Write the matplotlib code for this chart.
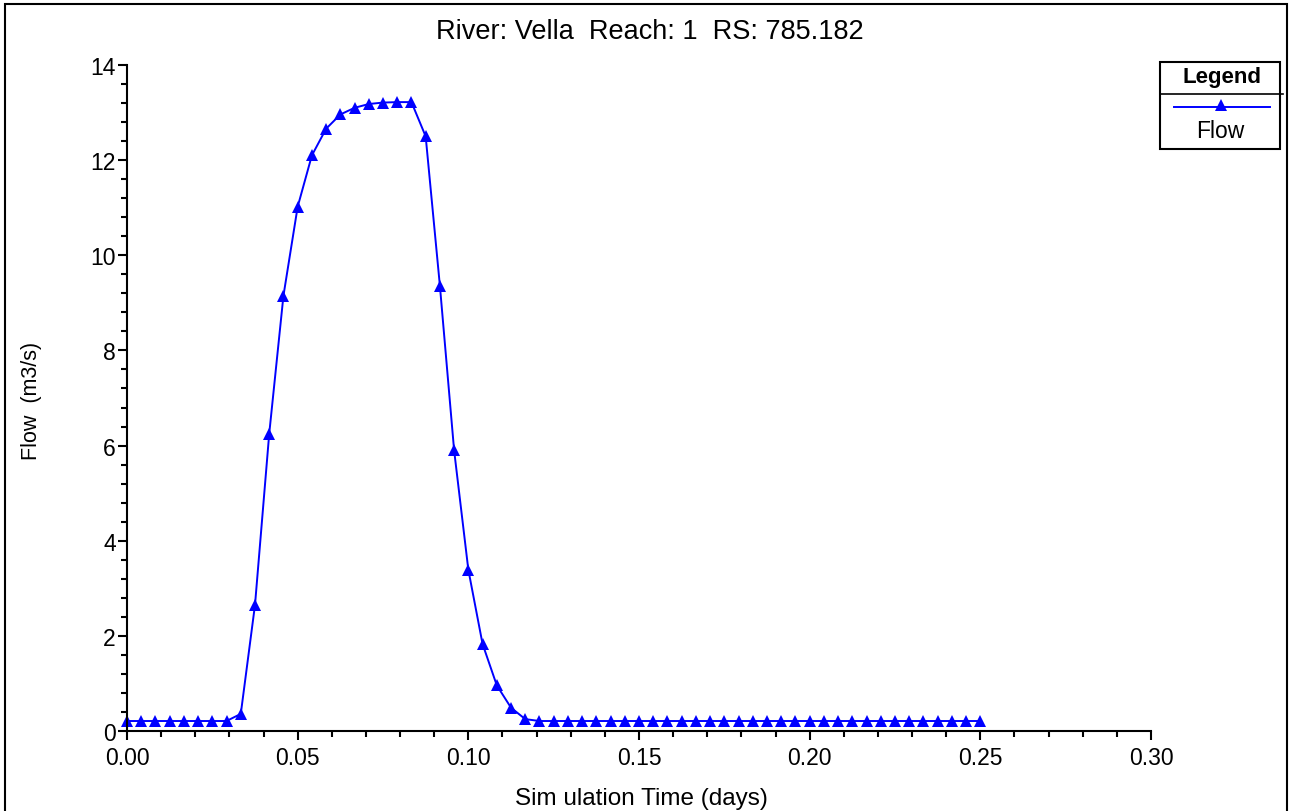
import matplotlib.pyplot as plt
import numpy as np
from matplotlib.lines import Line2D
from matplotlib.patches import Rectangle
from matplotlib.ticker import MultipleLocator

TITLE = "River: Vella  Reach: 1  RS: 785.182"
SERIES_NAME = "Flow"

# output interval: 6 minutes
time_min = [
    0, 6, 12, 18, 24, 30, 36, 42, 48, 54,
    60, 66, 72, 78, 84, 90, 96, 102, 108, 114,
    120, 126, 132, 138, 144, 150, 156, 162, 168, 174,
    180, 186, 192, 198, 204, 210, 216, 222, 228, 234,
    240, 246, 252, 258, 264, 270, 276, 282, 288, 294,
    300, 306, 312, 318, 324, 330, 336, 342, 348, 354,
    360,
]
flow = [
    0.21, 0.21, 0.21, 0.21, 0.21, 0.21, 0.21, 0.21, 0.36, 2.65,
    6.25, 9.15, 11.02, 12.10, 12.66, 12.96, 13.10, 13.18, 13.21, 13.22,
    13.22, 12.50, 9.36, 5.90, 3.39, 1.83, 0.96, 0.49, 0.25, 0.21,
    0.21, 0.21, 0.21, 0.21, 0.21, 0.21, 0.21, 0.21, 0.21, 0.21,
    0.21, 0.21, 0.21, 0.21, 0.21, 0.21, 0.21, 0.21, 0.21, 0.21,
    0.21, 0.21, 0.21, 0.21, 0.21, 0.21, 0.21, 0.21, 0.21, 0.21,
    0.21,
]
time_days = np.array(time_min) / 1440.0

BLUE = "#0000ff"
FONT = "Liberation Sans"

plt.rcParams.update({
    "font.family": FONT,
    "font.size": 16,
})

W, H = 1290, 812


def fx(px):
    return px / W


def fy(py):
    return 1 - py / H


fig = plt.figure(figsize=(12.9, 8.12), dpi=100)
ax = fig.add_axes([fx(127), fy(732), fx(1151) - fx(127), fy(66) - fy(732)])

# ── Series ────────────────────────────────────────────────────────────────────
ax.plot(time_days, flow, color=BLUE, linewidth=1.4,
        marker="^", markersize=9, markeredgewidth=0, clip_on=False)

# ── Axes ──────────────────────────────────────────────────────────────────────
ax.set_xlim(0, 0.30)
ax.set_ylim(0, 14)
ax.xaxis.set_major_locator(MultipleLocator(0.05))
ax.xaxis.set_minor_locator(MultipleLocator(0.01))
ax.yaxis.set_major_locator(MultipleLocator(2))
ax.yaxis.set_minor_locator(MultipleLocator(0.4))
ax.xaxis.set_major_formatter(lambda v, p: f"{v:.2f}")
ax.yaxis.set_major_formatter(lambda v, p: f"{v:.0f}")

for side in ("top", "right"):
    ax.spines[side].set_visible(False)
for side in ("left", "bottom"):
    ax.spines[side].set_linewidth(1.5)

ax.tick_params(which="major", direction="out", length=6.5, width=1.5,
               labelsize=16.5)
ax.tick_params(which="minor", direction="out", length=4.3, width=1.5)
ax.tick_params(axis="x", which="major", pad=4)
ax.tick_params(axis="y", which="major", pad=1.5)

fig.text(fx(641), fy(799), "Sim ulation Time (days)", ha="center", va="center",
         fontsize=17.5)
fig.text(fx(32), fy(401), "Flow  (m3/s)", ha="center", va="center",
         rotation=90, fontsize=15.5)
fig.text(fx(650), fy(32), TITLE, ha="center", va="center", fontsize=19.5)

# ── Legend box (drawn by hand, HEC-RAS style) ────────────────────────────────
fig.add_artist(Rectangle((fx(1160), fy(150)), fx(1280) - fx(1160), fy(63) - fy(150),
                         transform=fig.transFigure, fill=False, edgecolor="black",
                         linewidth=1.5))
fig.add_artist(Line2D([fx(1160), fx(1283)], [fy(95), fy(95)],
                      transform=fig.transFigure, color="black", linewidth=1.2))
fig.text(fx(1222), fy(78), "Legend", ha="center", va="center",
         fontsize=16, fontweight="bold")
fig.add_artist(Line2D([fx(1174), fx(1270)], [fy(108), fy(108)],
                      transform=fig.transFigure, color=BLUE, linewidth=1.4))
fig.add_artist(Line2D([fx(1221)], [fy(106)], transform=fig.transFigure,
                      color=BLUE, marker="^", markersize=8, markeredgewidth=0))
fig.text(fx(1220), fy(131), SERIES_NAME, ha="center", va="center", fontsize=16.5)

# ── Outer frame ───────────────────────────────────────────────────────────────
fig.add_artist(Rectangle((fx(5), fy(830)), fx(1287) - fx(5), fy(5) - fy(830),
                         transform=fig.transFigure, fill=False, edgecolor="black",
                         linewidth=1.5))

fig.savefig("out.png", dpi=100, facecolor="white")
